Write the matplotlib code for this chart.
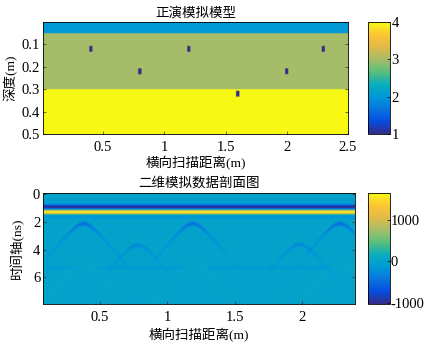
import numpy as np
import matplotlib
matplotlib.use("Agg")
import matplotlib.pyplot as plt
from matplotlib.colors import LinearSegmentedColormap

plt.rcParams['font.family'] = ['Liberation Serif', 'Noto Sans CJK SC', 'DejaVu Sans']
plt.rcParams['axes.unicode_minus'] = False

titles = ['正演模拟模型', '二维模拟数据剖面图']
xlabel = '横向扫描距离(m)'
ylabels = ['深度(m)', '时间轴(ns)']

# model layers: bottom depth (m), permittivity-like value
layer_bottom = [0.05, 0.30, 0.50]
layer_value = [2, 3, 4]
target_x = [0.4, 0.8, 1.2, 1.6, 2.0, 2.3]
target_z = [0.12, 0.22, 0.12, 0.32, 0.22, 0.12]
target_value = 1

# section: flat bands
band_t = [0.42, 0.90, 1.27, 1.62]
band_a = [-60, -1030, 1650, -170]
band_w = [0.14, 0.17, 0.15, 0.17]
# diffraction apexes
apex_x = [0.38, 0.78, 1.19, 1.98, 2.28]
apex_t = [2.12, 3.68, 2.12, 3.62, 2.12]
apex_a = [-480, -280, -480, -280, -480]
# faint flat reflector pieces
flat_t = 5.3
flat_from = [0.08, 0.48, 1.30]
flat_to = [0.33, 1.12, 2.22]

parula = LinearSegmentedColormap.from_list('parula', [
    (0.21, 0.17, 0.53), (0.02, 0.30, 0.88), (0.03, 0.46, 0.87),
    (0.00, 0.60, 0.84), (0.04, 0.68, 0.74), (0.35, 0.75, 0.48),
    (0.65, 0.74, 0.41), (0.88, 0.73, 0.28), (0.99, 0.77, 0.20),
    (0.97, 0.98, 0.08)])

fig = plt.figure(figsize=(4.25, 3.45), dpi=100)
W, H = 425, 345


def box(l, t, r, b):
    return [l / W, 1 - b / H, (r - l) / W, (b - t) / H]


# ---- model
ax1 = fig.add_axes(box(43, 22, 348, 134))
xs = np.linspace(0.01, 2.5, 1000)
zs = np.linspace(0, 0.5, 500)
X, Z = np.meshgrid(xs, zs)
model = np.select([Z <= b for b in layer_bottom], layer_value, default=layer_value[-1]).astype(float)
for tx, tz in zip(target_x, target_z):
    model[(np.abs(X - tx) < 0.013) & (np.abs(Z - tz) < 0.013)] = target_value
im1 = ax1.imshow(model, extent=[0.01, 2.5, 0.5, 0], aspect='auto', cmap=parula,
                 vmin=1, vmax=4, interpolation='bilinear')
ax1.set_xticks([0.5, 1, 1.5, 2, 2.5], ['0.5', '1', '1.5', '2', '2.5'])
ax1.set_yticks([0.1, 0.2, 0.3, 0.4, 0.5])
ax1.set_title(titles[0], fontsize=9.7, pad=4)
ax1.set_xlabel(xlabel, fontsize=9.7, labelpad=1.5)
ax1.set_ylabel(ylabels[0], fontsize=9.7, labelpad=3)

cax1 = fig.add_axes(box(368, 22, 390, 134))
cb1 = fig.colorbar(im1, cax=cax1, ticks=[1, 2, 3, 4])

# ---- section
ax2 = fig.add_axes(box(43, 193, 355, 304))
xs = np.linspace(0.08, 2.39, 700)
ts = np.linspace(-0.1, 7.95, 500)
X, T = np.meshgrid(xs, ts)
sec = np.zeros_like(X)
for t0, a, w in zip(band_t, band_a, band_w):
    sec += a * np.exp(-((T - t0) / w) ** 2)
for ax0, t0, a in zip(apex_x, apex_t, apex_a):
    dx = X - ax0
    curve = t0 - 0.9 + np.sqrt(0.9 ** 2 + (12 * dx) ** 2)
    fade = 0.35 * np.exp(-(np.abs(dx) / 0.30) ** 4) + 0.65 * np.exp(-(np.abs(dx) / 0.11) ** 2)
    sec += a * fade * np.exp(-((T - curve) / 0.16) ** 2)
    sec += 0.12 * abs(a) * fade * np.exp(-((T - curve + 0.33) / 0.13) ** 2)
    # lower ghost, faint
    ghost = t0 + 2.9 - 0.9 + np.sqrt(0.9 ** 2 + (12 * dx) ** 2)
    sec += 0.07 * abs(a) * np.exp(-(np.abs(dx) / 0.6) ** 2) * np.exp(-((T - ghost) / 0.15) ** 2)
for f0, f1 in zip(flat_from, flat_to):
    sec += -130 * ((X > f0) & (X < f1)) * np.exp(-((T - flat_t) / 0.10) ** 2)
im2 = ax2.imshow(sec, extent=[0.08, 2.39, 7.95, -0.1], aspect='auto', cmap=parula,
                 vmin=-1030, vmax=1650, interpolation='bilinear')
ax2.set_xticks([0.5, 1, 1.5, 2], ['0.5', '1', '1.5', '2'])
ax2.set_yticks([0, 2, 4, 6])
ax2.set_title(titles[1], fontsize=9.7, pad=5)
ax2.set_xlabel(xlabel, fontsize=9.7, labelpad=3)
ax2.set_ylabel(ylabels[1], fontsize=9.7, labelpad=6)

cax2 = fig.add_axes(box(367.5, 193, 389.5, 304))
cb2 = fig.colorbar(im2, cax=cax2, ticks=[-1000, 0, 1000])

for a in (ax1, ax2):
    a.tick_params(direction='in', length=2.5, width=0.5, labelsize=10.5,
                  top=False, right=True, color='#333333')
    a.tick_params(axis='x', pad=5)
    a.tick_params(axis='y', pad=2)
    for s in a.spines.values():
        s.set_linewidth(0.6)
for c in (cax1, cax2):
    c.tick_params(direction='in', length=2.5, width=0.5, labelsize=10.5, pad=1)
cb1.outline.set_linewidth(0.6)
cb2.outline.set_linewidth(0.6)

fig.savefig('out.png', dpi=100)
